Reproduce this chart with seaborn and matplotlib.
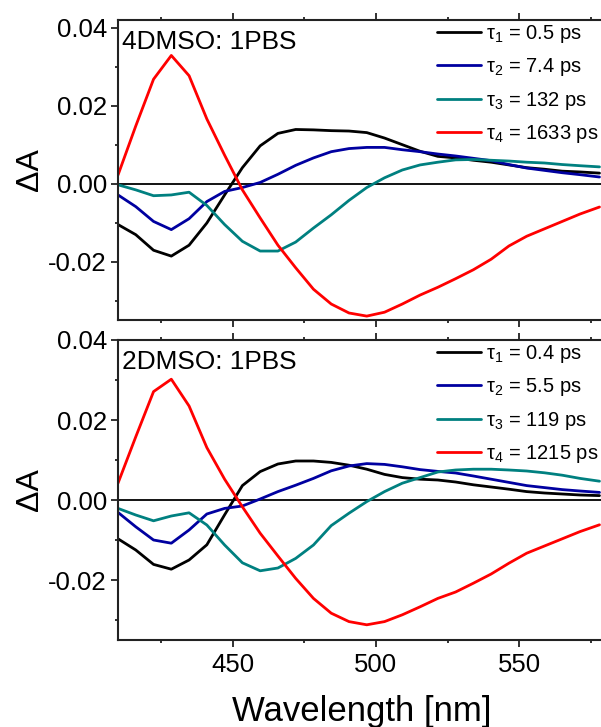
import numpy as np
import pandas as pd
import matplotlib
matplotlib.use("Agg")
import matplotlib.pyplot as plt
import seaborn as sns
from matplotlib.ticker import MultipleLocator

# ---------------- data ----------------
wavelength = [410, 416.2, 422.4, 428.6, 434.8, 441, 447.2, 453.4, 459.6, 465.8,
              472, 478.2, 484.4, 490.6, 496.8, 503, 509.2, 515.4, 521.6, 527.8,
              534, 540.2, 546.4, 552.6, 558.8, 565, 571.2, 578]

# panel 1: 4DMSO : 1PBS  (values in units of 1e-3)
top_t1 = [-10.5, -13.1, -17.1, -18.6, -15.8, -10.1, -2.9, 4.1, 9.7, 12.9,
          13.9, 13.8, 13.6, 13.5, 13.1, 11.7, 10.0, 8.3, 7.0, 6.6,
          6.0, 5.5, 4.8, 4.1, 3.7, 3.2, 3.0, 2.7]
top_t2 = [-2.9, -5.9, -9.7, -11.8, -9.0, -4.6, -2.0, -1.0, 0.3, 2.4,
          4.7, 6.6, 8.2, 9.0, 9.3, 9.3, 8.7, 8.2, 7.6, 7.1,
          6.5, 5.9, 4.9, 4.0, 3.4, 2.8, 2.3, 1.7]
top_t3 = [-0.3, -1.6, -3.1, -2.9, -2.2, -5.6, -10.5, -14.8, -17.3, -17.3,
          -15.0, -11.4, -8.0, -4.3, -1.0, 1.5, 3.5, 4.8, 5.5, 6.1,
          6.2, 6.0, 5.8, 5.5, 5.3, 4.9, 4.6, 4.3]
top_t4 = [2.2, 14.8, 26.8, 32.9, 27.7, 16.6, 7.3, -1.6, -8.8, -15.8,
          -21.6, -27.1, -30.9, -33.2, -34.0, -33.0, -30.9, -28.6, -26.6, -24.4,
          -22.1, -19.4, -16.0, -13.5, -11.6, -9.7, -7.8, -6.0]
top_labels = ["0.5 ps", "7.4 ps", "132 ps", "1633 ps"]

# panel 2: 2DMSO : 1PBS  (values in units of 1e-3)
bot_t1 = [-9.7, -12.5, -16.1, -17.3, -15.0, -11.2, -3.7, 3.6, 7.1, 9.0,
          9.75, 9.75, 9.4, 8.7, 7.7, 6.4, 5.6, 5.2, 5.0, 4.5,
          3.8, 3.25, 2.7, 2.1, 1.75, 1.5, 1.25, 1.1]
bot_t2 = [-3.1, -6.7, -10.0, -10.8, -7.5, -3.5, -2.1, -1.5, 0.25, 2.1,
          3.7, 5.4, 7.3, 8.5, 9.1, 8.9, 8.3, 7.6, 7.15, 6.75,
          6.0, 5.2, 4.4, 3.6, 3.1, 2.6, 2.25, 1.9]
bot_t3 = [-2.1, -3.75, -5.2, -4.0, -3.2, -6.25, -11.25, -15.7, -17.7, -17.0,
          -14.6, -11.25, -6.4, -3.3, -0.4, 2.1, 4.2, 5.6, 7.0, 7.5,
          7.7, 7.7, 7.5, 7.25, 6.8, 6.2, 5.4, 4.7]
bot_t4 = [4.2, 15.8, 27.1, 30.2, 23.5, 13.1, 5.2, -1.7, -8.3, -14.0,
          -19.6, -24.6, -28.3, -30.4, -31.2, -30.4, -28.7, -26.7, -24.6, -23.0,
          -20.8, -18.5, -15.8, -13.3, -11.5, -9.7, -7.9, -6.2]
bot_labels = ["0.4 ps", "5.5 ps", "119 ps", "1215 ps"]

panel_titles = ["4DMSO: 1PBS", "2DMSO: 1PBS"]
colors = ["#000000", "#0000A0", "#008080", "#FF0000"]

# ---------------- style ----------------
sns.set_theme(style="ticks")
plt.rcParams["font.family"] = ["Liberation Sans", "DejaVu Sans"]
plt.rcParams["mathtext.fontset"] = "custom"
plt.rcParams["mathtext.rm"] = "Liberation Sans"
plt.rcParams["mathtext.it"] = "Liberation Sans:italic"
plt.rcParams["axes.linewidth"] = 1.5
for key in ["text.color", "axes.labelcolor", "xtick.color", "ytick.color",
            "xtick.labelcolor", "ytick.labelcolor"]:
    plt.rcParams[key] = "black"

W, H = 601, 727
fig = plt.figure(figsize=(W / 100, H / 100), dpi=100)

left = 118 / W
width = (2.866 * 170) / W
ax_top = fig.add_axes([left, (H - 320) / H, width, 300 / H])
ax_bot = fig.add_axes([left, (H - 640) / H, width, 300 / H])


def draw(ax, series, labels, title, ylim):
    frames = []
    for i, (vals, lab) in enumerate(zip(series, labels)):
        frames.append(pd.DataFrame({
            "wl": wavelength,
            "dA": np.array(vals) / 1000.0,
            "lab": f"τ$_{i + 1}$ = {lab}",
        }))
    df = pd.concat(frames, ignore_index=True)
    hue_order = [f"τ$_{i + 1}$ = {lab}" for i, lab in enumerate(labels)]
    sns.lineplot(data=df, x="wl", y="dA", hue="lab", hue_order=hue_order,
                 palette=colors, linewidth=2.0, ax=ax, sort=False,
                 estimator=None, legend=True)
    ax.axhline(0, color="black", linewidth=1.3, zorder=0)
    ax.set_xlim(410, 580)
    ax.set_ylim(*ylim)
    ax.xaxis.set_major_locator(MultipleLocator(50))
    ax.xaxis.set_minor_locator(MultipleLocator(25))
    ax.yaxis.set_major_locator(MultipleLocator(0.02))
    ax.yaxis.set_minor_locator(MultipleLocator(0.01))
    ax.yaxis.set_major_formatter(matplotlib.ticker.FuncFormatter(
        lambda v, p: f"{v:.2f}".replace("-0.00", "0.00")))
    ax.tick_params(axis="both", which="major", direction="out", length=5,
                   width=1.3, labelsize=18.5, pad=3, top=True, right=True,
                   color="#222222")
    ax.tick_params(axis="both", which="minor", direction="out", length=2.5,
                   width=1.3, top=True, right=True, color="#222222")
    for s in ax.spines.values():
        s.set_color("#222222")
    ax.set_ylabel("ΔA", fontsize=23, labelpad=2.5)
    ax.text(0.009, 0.902, title, transform=ax.transAxes, fontsize=18.9,
            ha="left", va="baseline")
    leg = ax.legend(loc="upper left", bbox_to_anchor=(0.655, 0.99),
                    frameon=False, fontsize=14.5, handlelength=2.2,
                    handletextpad=0.22, labelspacing=0.56, borderpad=0,
                    borderaxespad=0)
    for line in leg.get_lines():
        line.set_linewidth(2.0)


draw(ax_top, [top_t1, top_t2, top_t3, top_t4], top_labels, panel_titles[0],
     (-0.035, 0.042))
draw(ax_bot, [bot_t1, bot_t2, bot_t3, bot_t4], bot_labels, panel_titles[1],
     (-0.035, 0.04))

ax_top.set_xlabel("")
ax_top.tick_params(axis="x", labelbottom=False)
ax_bot.set_xlabel("Wavelength [nm]", fontsize=25, labelpad=13)
ax_bot.tick_params(axis="x", pad=4)

fig.savefig("out.png", dpi=100)
